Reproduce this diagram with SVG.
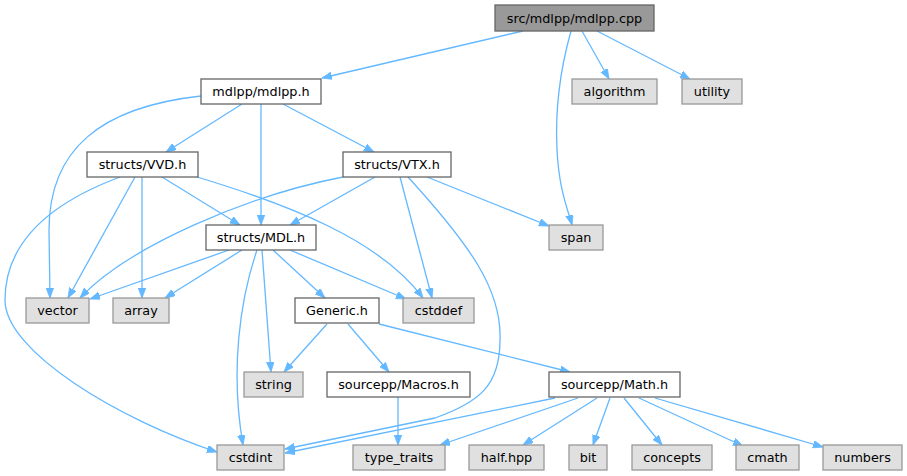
<svg xmlns="http://www.w3.org/2000/svg" width="907" height="476" viewBox="0 0 907 476">
<style>
.n rect{fill:#ffffff;stroke:#666666;stroke-width:1.3}
.ext rect{fill:#e0e0e0;stroke:#999999;stroke-width:1.3}
.root rect{fill:#999999;stroke:#666666;stroke-width:1.3}
text{font-family:"DejaVu Sans",sans-serif;font-size:12.8px;fill:#000000;text-anchor:middle}
#edges path{fill:none;stroke:#63b8ff;stroke-width:1.3;marker-end:url(#ah)}
</style>
<defs>
<marker id="ah" markerUnits="userSpaceOnUse" markerWidth="11" markerHeight="8" refX="10" refY="3.75" orient="auto">
<path d="M0,0 L10,3.75 L0,7.5 z" fill="#63b8ff" stroke="#63b8ff" stroke-width="0.8"/>
</marker>
</defs>
<rect width="907" height="476" fill="#ffffff"/>
<g id="edges">
<path d="M523,31 L322,78"/>
<path d="M571,31 C560,70 555,110 557,150 C559,190 568,210 572,225"/>
<path d="M582,31 L609,79"/>
<path d="M597,31 L690,79"/>
<path d="M201,96 C100,107 49,150 49,230 L50,298"/>
<path d="M242,104 L166,152"/>
<path d="M261,104 L261,225"/>
<path d="M283,104 L374,152"/>
<path d="M135,177 L68,298"/>
<path d="M142,177 L142,298"/>
<path d="M162,177 L240,225"/>
<path d="M197,177 C290,205 380,240 423,298"/>
<path d="M120,177 C45,205 5,245 5,300 C5,352 120,420 217,452"/>
<path d="M343,177 C250,195 130,245 80,298"/>
<path d="M375,177 L290,225"/>
<path d="M400,177 L432,298"/>
<path d="M408,177 C470,245 502,290 500,340 C500,385 480,402 435,418 L285,449"/>
<path d="M427,177 L549,226"/>
<path d="M229,250 L90,299"/>
<path d="M242,250 L165,298"/>
<path d="M257,250 C240,300 230,370 243,445"/>
<path d="M262,250 L271,372"/>
<path d="M273,250 L325,298"/>
<path d="M290,250 L406,299"/>
<path d="M327,324 L284,372"/>
<path d="M348,324 L389,372"/>
<path d="M379,324 L570,372"/>
<path d="M398,397 L398,445"/>
<path d="M555,398 L285,453"/>
<path d="M578,398 L440,445"/>
<path d="M597,398 L523,445"/>
<path d="M610,398 L593,445"/>
<path d="M624,398 L662,445"/>
<path d="M639,398 L743,446"/>
<path d="M655,398 L823,447"/>
</g>
<g id="node_root" class="root"><rect x="495" y="5" width="159" height="26"/><text x="574.5" y="22.5">src/mdlpp/mdlpp.cpp</text></g>
<g id="node_mdlpp" class="n"><rect x="201" y="79" width="120" height="25"/><text x="261" y="96">mdlpp/mdlpp.h</text></g>
<g id="node_algorithm" class="ext"><rect x="572" y="79" width="85" height="25"/><text x="614.5" y="96">algorithm</text></g>
<g id="node_utility" class="ext"><rect x="682" y="79" width="60" height="25"/><text x="712" y="96">utility</text></g>
<g id="node_vvd" class="n"><rect x="87" y="152" width="111" height="25"/><text x="142.5" y="169">structs/VVD.h</text></g>
<g id="node_vtx" class="n"><rect x="343" y="152" width="108" height="25"/><text x="397" y="169">structs/VTX.h</text></g>
<g id="node_span" class="ext"><rect x="549" y="225" width="54" height="25"/><text x="576" y="242">span</text></g>
<g id="node_mdl" class="n"><rect x="206" y="225" width="110" height="25"/><text x="261" y="242">structs/MDL.h</text></g>
<g id="node_vector" class="ext"><rect x="26" y="298" width="63" height="25"/><text x="57.5" y="315">vector</text></g>
<g id="node_array" class="ext"><rect x="113" y="298" width="56" height="25"/><text x="141" y="315">array</text></g>
<g id="node_generic" class="n"><rect x="295" y="298" width="84" height="25"/><text x="337" y="315">Generic.h</text></g>
<g id="node_cstddef" class="ext"><rect x="403" y="298" width="71" height="25"/><text x="438.5" y="315">cstddef</text></g>
<g id="node_string" class="ext"><rect x="244" y="372" width="59" height="25"/><text x="273.5" y="389">string</text></g>
<g id="node_macros" class="n"><rect x="327" y="372" width="143" height="25"/><text x="398.5" y="389">sourcepp/Macros.h</text></g>
<g id="node_math" class="n"><rect x="549" y="372" width="131" height="25"/><text x="614.5" y="389">sourcepp/Math.h</text></g>
<g id="node_cstdint" class="ext"><rect x="217" y="445" width="67" height="25"/><text x="250.5" y="462">cstdint</text></g>
<g id="node_type_traits" class="ext"><rect x="353" y="445" width="92" height="25"/><text x="399" y="462">type_traits</text></g>
<g id="node_half" class="ext"><rect x="469" y="445" width="75" height="25"/><text x="506.5" y="462">half.hpp</text></g>
<g id="node_bit" class="ext"><rect x="569" y="445" width="38" height="25"/><text x="588" y="462">bit</text></g>
<g id="node_concepts" class="ext"><rect x="632" y="445" width="80" height="25"/><text x="672" y="462">concepts</text></g>
<g id="node_cmath" class="ext"><rect x="736" y="445" width="63" height="25"/><text x="767.5" y="462">cmath</text></g>
<g id="node_numbers" class="ext"><rect x="823" y="445" width="79" height="25"/><text x="862.5" y="462">numbers</text></g>
</svg>
